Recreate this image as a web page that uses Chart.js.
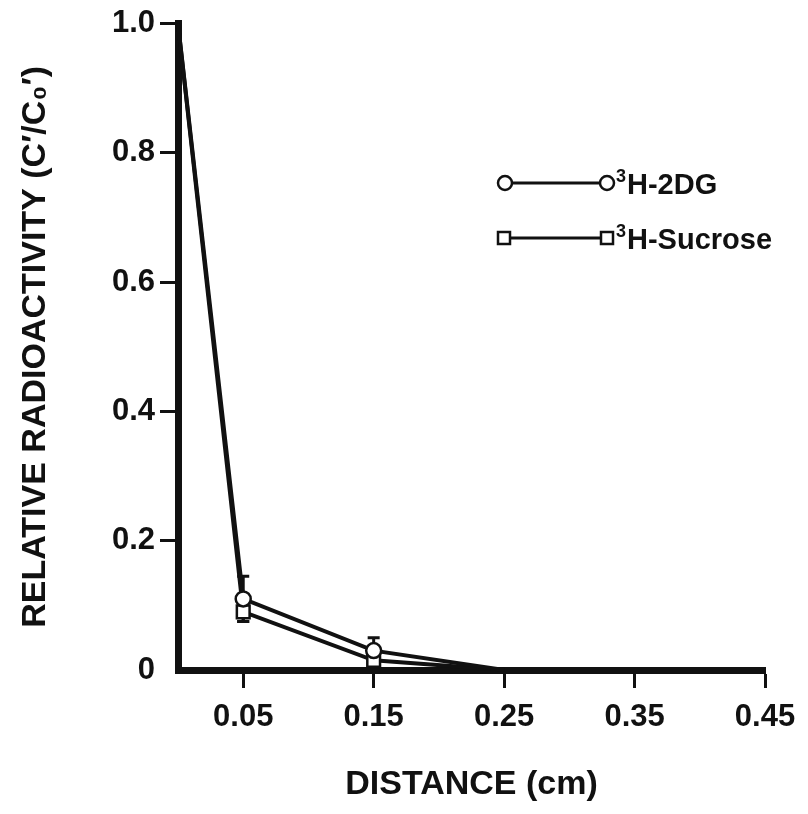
<!DOCTYPE html>
<html>
<head>
<meta charset="utf-8">
<title>Relative radioactivity vs distance</title>
<script src="https://cdn.jsdelivr.net/npm/chart.js@4.4.0/dist/chart.umd.min.js"></script>
<style>
  html, body { margin: 0; padding: 0; background: #fff; }
  canvas { display: block; }
</style>
</head>
<body>
<canvas id="chart" width="808" height="814"></canvas>
<script>
'use strict';

/* ── DATA ── */
const distances   = [0, 0.05, 0.15, 0.25];
const dgValues    = [1.0, 0.11, 0.03, 0];
const dgErrors    = [0, 0.035, 0.02, 0];
const sucValues   = [1.0, 0.09, 0.015, 0];
const sucErrors   = [0, 0.015, 0.01, 0];
const xTicks      = [0.05, 0.15, 0.25, 0.35, 0.45];
const yTicks      = [0, 0.2, 0.4, 0.6, 0.8, 1.0];
const yTickLabels = ['0', '0.2', '0.4', '0.6', '0.8', '1.0'];

const INK  = '#111';
const FONT = '"Liberation Sans", Arial, sans-serif';

function points(values) {
  return distances.map((d, i) => ({ x: d, y: values[i] }));
}

/* ── ERROR BARS (under the markers) ── */
const errorBars = {
  id: 'errorBars',
  beforeDatasetsDraw(chart) {
    const { ctx, scales: { x, y } } = chart;
    ctx.save();
    ctx.strokeStyle = INK;
    ctx.lineWidth = 3;
    chart.data.datasets.forEach(ds => {
      if (!ds.errors) return;
      ds.data.forEach((p, i) => {
        const e = ds.errors[i];
        if (!e) return;
        const px  = x.getPixelForValue(p.x);
        const top = y.getPixelForValue(p.y + e);
        const bot = y.getPixelForValue(p.y - e);
        ctx.beginPath();
        ctx.moveTo(px, top);     ctx.lineTo(px, bot);
        ctx.moveTo(px - 6, top); ctx.lineTo(px + 6, top);
        ctx.moveTo(px - 6, bot); ctx.lineTo(px + 6, bot);
        ctx.stroke();
      });
    });
    ctx.restore();
  }
};

/* ── KEY: marker—line—marker + label ── */
const seriesKey = {
  id: 'seriesKey',
  afterDraw(chart) {
    const ctx = chart.ctx;
    const rows = [
      { y: 183, x0: 505, x1: 607, shape: 'circle', name: 'H-2DG' },
      { y: 238, x0: 504, x1: 607, shape: 'square', name: 'H-Sucrose' }
    ];
    ctx.save();
    rows.forEach(r => {
      ctx.strokeStyle = INK;
      ctx.lineWidth = 3;
      ctx.beginPath();
      ctx.moveTo(r.x0, r.y);
      ctx.lineTo(r.x1, r.y);
      ctx.stroke();

      ctx.lineWidth = 2.5;
      ctx.fillStyle = '#fff';
      [r.x0, r.x1].forEach(cx => {
        ctx.beginPath();
        if (r.shape === 'circle') ctx.arc(cx, r.y, 7, 0, Math.PI * 2);
        else ctx.rect(cx - 6, r.y - 6, 12, 12);
        ctx.fill();
        ctx.stroke();
      });

      ctx.fillStyle = INK;
      ctx.textBaseline = 'alphabetic';
      ctx.textAlign = 'left';
      ctx.font = 'bold 18px ' + FONT;
      ctx.fillText('3', 616, r.y - 1);
      ctx.font = 'bold 29px ' + FONT;
      ctx.fillText(r.name, 627, r.y + 11);
    });
    ctx.restore();
  }
};

/* ── CHART ── */
new Chart(document.getElementById('chart'), {
  type: 'line',
  data: {
    datasets: [
      {
        label: '³H-2DG',
        data: points(dgValues),
        errors: dgErrors,
        borderColor: INK,
        borderWidth: 4,
        pointStyle: 'circle',
        pointRadius: [0, 7.5, 7.5, 0],
        pointBorderWidth: 2.5,
        pointBorderColor: INK,
        pointBackgroundColor: '#fff',
        tension: 0,
        clip: false
      },
      {
        label: '³H-Sucrose',
        data: points(sucValues),
        errors: sucErrors,
        borderColor: INK,
        borderWidth: 4,
        pointStyle: 'rect',
        pointRadius: [0, 9, 9, 0],
        pointBorderWidth: 2.5,
        pointBorderColor: INK,
        pointBackgroundColor: '#fff',
        tension: 0,
        clip: false
      }
    ]
  },
  options: {
    responsive: false,
    animation: false,
    layout: { padding: { top: 20, right: 43, bottom: 0, left: 0 } },
    plugins: {
      legend: { display: false },
      tooltip: { enabled: false }
    },
    scales: {
      x: {
        type: 'linear',
        min: 0,
        max: 0.45,
        afterFit: s => { s.height = 144; },
        afterBuildTicks: s => { s.ticks = xTicks.map(v => ({ value: v })); },
        grid: {
          drawOnChartArea: false,
          tickLength: 18,
          tickWidth: 3,
          tickColor: INK
        },
        border: { display: true, width: 7, color: INK },
        ticks: {
          color: INK,
          padding: 11,
          maxRotation: 0,
          font: { family: FONT, size: 31, weight: 'bold' },
          callback: v => v.toFixed(2)
        },
        title: {
          display: true,
          text: 'DISTANCE (cm)',
          color: INK,
          font: { family: FONT, size: 34, weight: 'bold' },
          padding: { top: 0, bottom: 9 }
        }
      },
      y: {
        type: 'linear',
        min: 0,
        max: 1.0,
        afterFit: s => { s.width = 178; },
        afterBuildTicks: s => { s.ticks = yTicks.map(v => ({ value: v })); },
        grid: {
          drawOnChartArea: false,
          tickLength: 18,
          tickWidth: 3,
          tickColor: c => (c.tick && c.tick.value === 0 ? 'rgba(0,0,0,0)' : INK)
        },
        border: { display: true, width: 7, color: INK },
        ticks: {
          color: INK,
          padding: 5,
          font: { family: FONT, size: 31, weight: 'bold' },
          callback: (v, i) => yTickLabels[i]
        },
        title: {
          display: true,
          text: 'RELATIVE RADIOACTIVITY (C′/C₀′)',
          color: INK,
          font: { family: FONT, size: 34, weight: 'bold' },
          padding: { top: 15, bottom: 0 }
        }
      }
    }
  },
  plugins: [errorBars, seriesKey]
});
</script>
</body>
</html>
